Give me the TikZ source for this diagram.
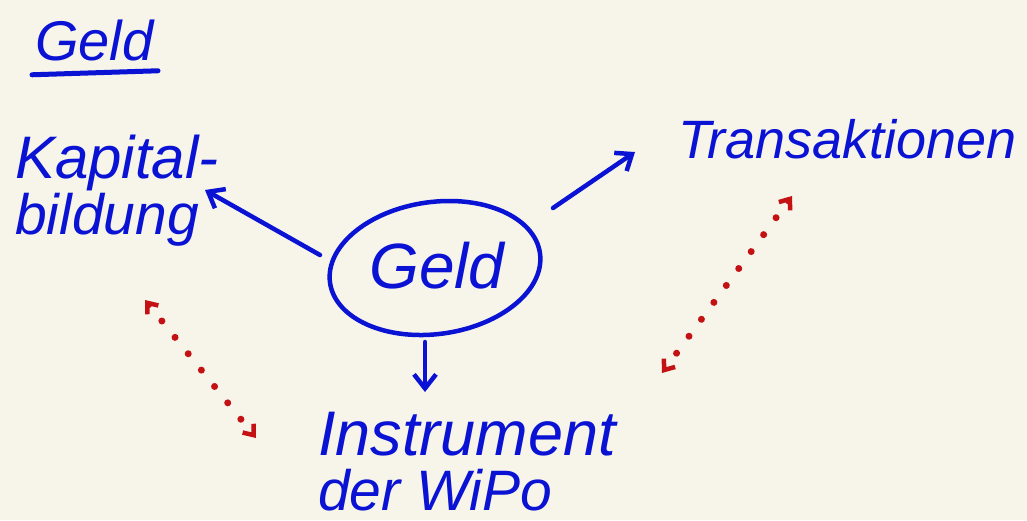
\documentclass[tikz,border=0pt]{standalone}
\usepackage{fontspec}
\setmainfont{Liberation Sans}
\usetikzlibrary{arrows.meta,shapes.geometric}
\definecolor{ink}{RGB}{10,18,212}
\definecolor{redink}{RGB}{196,18,20}
\definecolor{paper}{RGB}{247,244,234}
\tikzset{
  hand/.style={text=ink,inner sep=0pt},
  arr/.style={draw=ink,line width=4.5pt,line cap=round,-{Straight Barb[length=14pt,width=22pt,line width=4.5pt]}},
  dotarr/.style={draw=redink,line width=7pt,line cap=round,dash pattern=on 0.01pt off 21pt,
     {Straight Barb[length=9pt,width=14pt,line width=4.5pt]}-{Straight Barb[length=9pt,width=14pt,line width=4.5pt]}}
}
\begin{document}
\begin{tikzpicture}[x=1pt,y=-1pt]
\fill[paper] (0,0) rectangle (1027,520);
\useasboundingbox (0,0) rectangle (1027,520);
% title
\node[hand,anchor=base west,font=\fontsize{56}{60}\selectfont\itshape] (title) at (35,60) {Geld};
\draw[ink,line width=5pt,line cap=round] (title.south west) ++(-3,14) coordinate (ul1) -- ++(126,-4) coordinate (ul2);
% nodes
\node[hand,anchor=base west,font=\fontsize{60}{60}\selectfont\itshape] (kap1) at (15,178) {Kapital-};
\node[hand,anchor=base west,font=\fontsize{57}{60}\selectfont\itshape] (kap2) at (15,234) {bildung};
\node[hand,anchor=base west,font=\fontsize{54}{60}\selectfont\itshape] (trans) at (678,158) {Transaktionen};
\node[hand,anchor=base west,font=\fontsize{63}{60}\selectfont\itshape] (instr1) at (318,455) {Instrument};
\node[hand,anchor=base west,font=\fontsize{57}{60}\selectfont\itshape] (instr2) at (318,510) {der WiPo};
\node[hand,font=\fontsize{64}{60}\selectfont\itshape] (geldtxt) at (437,266) {Geld};
\node[draw=ink,line width=4.5pt,ellipse,minimum width=212pt,minimum height=132pt,rotate=8] (geld) at (435,268) {};
% coordinates for arrow ends
\coordinate (kapend) at (205,190);
\coordinate (transend) at (635,152);
\coordinate (instrend) at (425,392);
% blue arrows
\draw[arr] (geld.center) ++(-115,-13) coordinate (kapstart) -- (kapend);
\draw[arr] (geld.center) ++(118,-60) coordinate (transstart) -- (transend);
\draw[arr] (geld.center) ++(-10,74) coordinate (instrstart) -- (instrend);
% red dotted double arrows
\coordinate (r1a) at (145,300);
\coordinate (r1b) at (256,438);
\coordinate (r2a) at (792,196);
\coordinate (r2b) at (662,373);
\draw[dotarr] (r1a) -- (r1b);
\draw[dotarr] (r2a) -- (r2b);
\end{tikzpicture}
\end{document}
